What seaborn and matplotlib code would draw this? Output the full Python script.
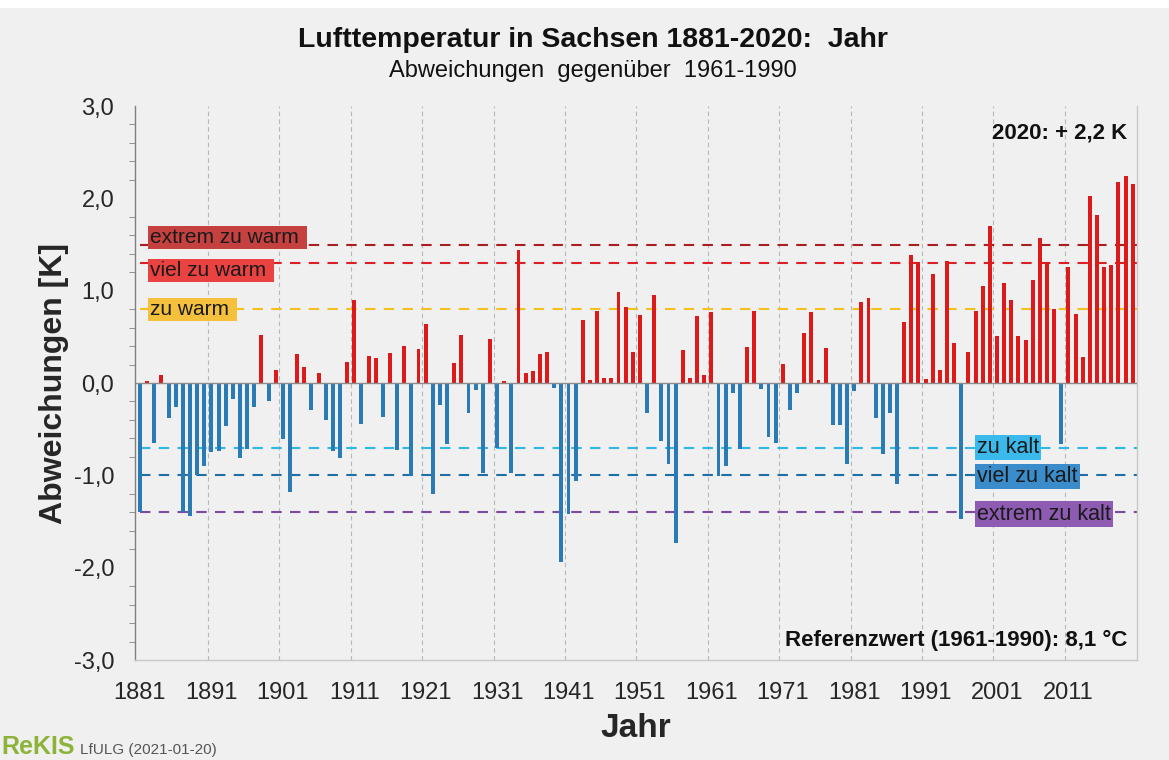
import numpy as np
import pandas as pd
import matplotlib
matplotlib.use("Agg")
import matplotlib.pyplot as plt
import seaborn as sns

years = list(range(1881, 2021))
anomalies = [
    -1.40, 0.02, -0.65, 0.09, -0.38, -0.26, -1.40, -1.44, -1.00, -0.90,   # 1881-1890
    -0.75, -0.74, -0.47, -0.17, -0.81, -0.71, -0.26, 0.52, -0.20, 0.14,   # 1891-1900
    -0.61, -1.18, 0.31, 0.17, -0.29, 0.11, -0.40, -0.74, -0.81, 0.23,     # 1901-1910
    0.90, -0.44, 0.29, 0.27, -0.37, 0.32, -0.73, 0.40, -1.01, 0.37,       # 1911-1920
    0.64, -1.20, -0.24, -0.66, 0.22, 0.52, -0.32, -0.08, -0.97, 0.48,     # 1921-1930
    -0.70, 0.02, -0.97, 1.44, 0.11, 0.13, 0.31, 0.34, -0.05, -1.94,       # 1931-1940
    -1.42, -1.06, 0.68, 0.03, 0.78, 0.05, 0.05, 0.99, 0.82, 0.34,         # 1941-1950
    0.74, -0.33, 0.95, -0.63, -0.88, -1.73, 0.36, 0.05, 0.73, 0.09,       # 1951-1960
    0.77, -1.01, -0.90, -0.11, -0.72, 0.39, 0.78, -0.06, -0.58, -0.65,    # 1961-1970
    0.21, -0.29, -0.11, 0.54, 0.77, 0.03, 0.38, -0.46, -0.45, -0.88,      # 1971-1980
    -0.09, 0.88, 0.92, -0.38, -0.77, -0.32, -1.09, 0.66, 1.39, 1.31,      # 1981-1990
    0.04, 1.18, 0.14, 1.32, 0.43, -1.47, 0.34, 0.78, 1.05, 1.70,          # 1991-2000
    0.51, 1.08, 0.90, 0.51, 0.47, 1.12, 1.57, 1.31, 0.80, -0.66,          # 2001-2010
    1.26, 0.75, 0.28, 2.02, 1.82, 1.26, 1.28, 2.18, 2.24, 2.15,           # 2011-2020
]

x_tick_years = [1881, 1891, 1901, 1911, 1921, 1931, 1941, 1951, 1961, 1971, 1981, 1991, 2001, 2011]
y_ticks = [-3, -2, -1, 0, 1, 2, 3]
y_tick_labels = ["-3,0", "-2,0", "-1,0", "0,0", "1,0", "2,0", "3,0"]

thresholds_warm = [1.5, 1.3, 0.8]
labels_warm = ["extrem zu warm ", "viel zu warm ", "zu warm "]
label_pos_warm = [1.58, 1.22, 0.80]
thresholds_cold = [-0.7, -1.0, -1.4]
labels_cold = ["zu kalt", "viel zu kalt", "extrem zu kalt"]
label_pos_cold = [-0.70, -1.01, -1.42]

line_colors_warm = ["#A81E22", "#DC1F26", "#F2C11E"]
box_colors_warm = ["#C4413F", "#EA4141", "#F5C13C"]
line_colors_cold = ["#2DB8E6", "#1F6FA6", "#7A4B9E"]
box_colors_cold = ["#3BB9EA", "#3A8CCB", "#8E5BB2"]

df = pd.DataFrame({"Jahr": years, "Abweichung": anomalies})
df["Art"] = np.where(df["Abweichung"] >= 0, "warm", "kalt")

sns.set_style("white")
plt.rcParams["font.family"] = ["Liberation Sans", "DejaVu Sans"]

fig = plt.figure(figsize=(11.69, 7.6), dpi=100, facecolor="#F0F0F0")
ax = fig.add_axes([135 / 1169, 100 / 760, 1002 / 1169, 554 / 760])
ax.set_facecolor("#F0F0F0")

# white strip at top
fig.patches.append(plt.Rectangle((0, 1 - 8 / 760), 1, 8 / 760, transform=fig.transFigure,
                                 facecolor="white", edgecolor="none", zorder=0))

sns.barplot(data=df, x="Jahr", y="Abweichung", hue="Art",
            palette={"warm": "#DD1A1A", "kalt": "#2A7AB4"},
            native_scale=True, dodge=False, width=0.55, legend=False,
            saturation=1, ax=ax, zorder=3, edgecolor="none")

ax.set_xlim(1880.3, 2020.6)
ax.set_ylim(-3, 3)

# vertical gridlines between decades
for g in range(1890, 2020, 10):
    ax.axvline(g + 0.5, color="#B8B8B8", lw=0.8, ls=(0, (4, 3)), zorder=1)

ax.axhline(0, color="#8C8C8C", lw=1.0, zorder=4)

# threshold lines and labels
for val, pos, lab, lc, bc in zip(thresholds_warm, label_pos_warm, labels_warm,
                                 line_colors_warm, box_colors_warm):
    ax.axhline(val, xmin=0.005, color=lc, lw=1.5, ls=(0, (5, 4)), zorder=2)
    ax.text(1882.4, pos, lab, fontsize=15, color="#1A1A1A", ha="left", va="center", zorder=5,
            bbox=dict(boxstyle="square,pad=0.1", facecolor=bc, edgecolor="none"))
for val, pos, lab, lc, bc in zip(thresholds_cold, label_pos_cold, labels_cold,
                                 line_colors_cold, box_colors_cold):
    ax.axhline(val, xmin=0.005, color=lc, lw=1.5, ls=(0, (5, 4)), zorder=2)
    ax.text(1998.2, pos, lab, fontsize=15.5, color="#1A1A1A", ha="left", va="center", zorder=5,
            bbox=dict(boxstyle="square,pad=0.1", facecolor=bc, edgecolor="none"))

ax.set_yticks(y_ticks)
ax.set_yticklabels(y_tick_labels, fontsize=17)
ax.set_yticks(np.arange(-3, 3.01, 0.2), minor=True)
ax.tick_params(axis="y", which="major", direction="out", length=6, color="#808080", pad=9)
ax.tick_params(axis="y", which="minor", direction="out", length=4, color="#808080", left=True)
ax.set_xticks(x_tick_years)
ax.set_xticklabels([str(y) for y in x_tick_years], fontsize=17)
ax.tick_params(axis="x", length=0, pad=16)

ax.set_xlabel("Jahr", fontsize=24, fontweight="bold", labelpad=6)
ax.set_ylabel("Abweichungen [K]", fontsize=23, fontweight="bold", labelpad=3)

ax.spines["top"].set_visible(False)
ax.spines["left"].set_color("#808080")
ax.spines["bottom"].set_color("#C8C8C8")
ax.spines["right"].set_color("#C8C8C8")
for s in ["left", "bottom", "right"]:
    ax.spines[s].set_linewidth(1.0)

ax.text(0.990, 0.951, "2020: + 2,2 K", transform=ax.transAxes, ha="right", va="center",
        fontsize=16, fontweight="bold", color="#111111", zorder=6)
ax.text(0.990, 0.036, "Referenzwert (1961-1990): 8,1 °C", transform=ax.transAxes, ha="right",
        va="center", fontsize=16, fontweight="bold", color="#111111", zorder=6)

fig.text(0.507, 1 - 40 / 760, "Lufttemperatur in Sachsen 1881-2020:  Jahr", ha="center", va="center",
         fontsize=20.5, fontweight="bold", color="#111111")
fig.text(0.507, 1 - 71 / 760, "Abweichungen  gegenüber  1961-1990", ha="center", va="center",
         fontsize=17, color="#111111")

fig.text(1 / 1169, 1 / 760, "ReKIS", ha="left", va="bottom", fontsize=18, fontweight="bold",
         color="#8DB33A")
fig.text(80 / 1169, 3 / 760, "LfULG (2021-01-20)", ha="left", va="bottom", fontsize=11,
         color="#555555")

fig.savefig("out.png", dpi=100, facecolor=fig.get_facecolor())
